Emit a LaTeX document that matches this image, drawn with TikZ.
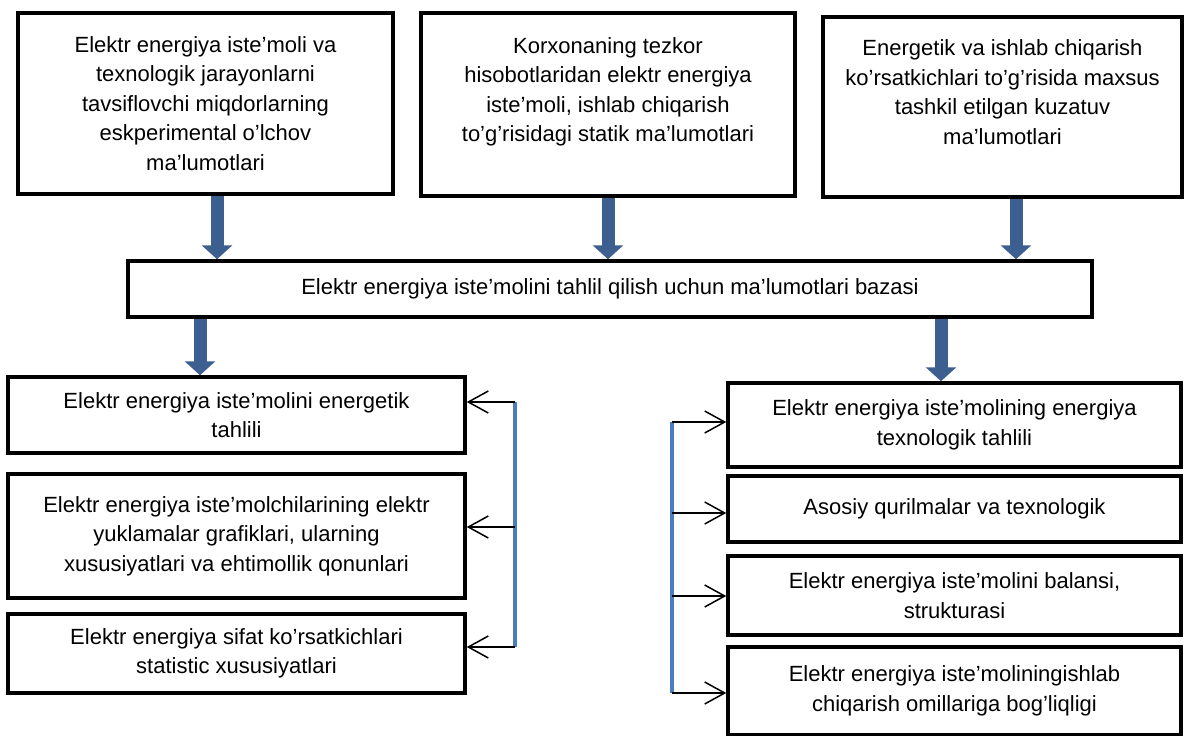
\documentclass[tikz,border=0pt]{standalone}
\usepackage{fontspec}
\setmainfont{Liberation Sans}
\usetikzlibrary{arrows.meta}
\definecolor{arrowblue}{HTML}{3D5F8F}
\definecolor{lineblue}{HTML}{4A7EBB}
\tikzset{box/.style={draw, line width=3.5pt, align=center, inner sep=4pt, font=\fontsize{22}{29.5}\selectfont}}
\tikzset{fat/.style={color=arrowblue, line width=13pt, -{Triangle[length=14pt,width=30pt]}}}
\tikzset{rail/.style={draw=lineblue, line width=3.5pt}}
\tikzset{barb/.style={line width=1.5pt, -{Straight Barb[length=20pt,width=22pt]}}}
\newcommand{\fatarrow}[3]{\draw[fat] (#1,0 |- #2) -- (#1,0 |- #3);}

\begin{document}
\begin{tikzpicture}[x=1pt,y=-1pt]
\useasboundingbox (0,0) rectangle (1184,736);
\node[box, minimum width=375pt, minimum height=181pt] (src1) at (205.5,103.5) {Elektr energiya iste’moli va\\texnologik jarayonlarni\\tavsiflovchi miqdorlarning\\eskperimental o’lchov\\ma’lumotlari};
\node[box, minimum width=374pt, minimum height=183pt] (src2) at (608,104.5) {Korxonaning tezkor\\hisobotlaridan elektr energiya\\iste’moli, ishlab chiqarish\\to’g’risidagi statik ma’lumotlari\\~};
\node[box, minimum width=359pt, minimum height=180pt] (src3) at (1002.5,107) {Energetik va ishlab chiqarish\\ko’rsatkichlari to’g’risida maxsus\\tashkil etilgan kuzatuv\\ma’lumotlari\\~};
\node[box, minimum width=964pt, minimum height=56pt] (base) at (610,289) {Elektr energiya iste’molini tahlil qilish uchun ma’lumotlari bazasi};
\node[box, minimum width=457pt, minimum height=76pt] (en1) at (236.5,415) {Elektr energiya iste’molini energetik\\tahlili};
\node[box, minimum width=457pt, minimum height=124pt] (en2) at (236.5,536) {Elektr energiya iste’molchilarining elektr\\yuklamalar grafiklari, ularning\\xususiyatlari va ehtimollik qonunlari};
\node[box, minimum width=457pt, minimum height=79pt] (en3) at (236.5,653.5) {Elektr energiya sifat ko’rsatkichlari\\statistic xususiyatlari};
\node[box, minimum width=453pt, minimum height=84pt] (tx1) at (954.5,425) {Elektr energiya iste’molining energiya\\texnologik tahlili};
\node[box, minimum width=453pt, minimum height=66pt] (tx2) at (954.5,509) {Asosiy qurilmalar va texnologik};
\node[box, minimum width=453pt, minimum height=79pt] (tx3) at (954.5,595.5) {Elektr energiya iste’molini balansi,\\strukturasi};
\node[box, minimum width=453pt, minimum height=88pt] (tx4) at (954.5,691) {Elektr energiya iste’moliningishlab\\chiqarish omillariga bog’liqligi};
\fatarrow{217}{src1.south}{base.north}
\fatarrow{608}{src2.south}{base.north}
\fatarrow{1016}{src3.south}{base.north}
\fatarrow{200}{base.south}{en1.north}
\fatarrow{941}{base.south}{tx1.north}
\coordinate (lt) at (515,402);
\coordinate (lm) at (515,527);
\coordinate (lb) at (515,647);
\coordinate (rt) at (672,422);
\coordinate (rm1) at (672,513);
\coordinate (rm2) at (672,596);
\coordinate (rb) at (672,693);
\draw[rail] (lt) -- (lb);
\draw[rail] (rt) -- (rb);
\draw[barb] (lt) -- (lt -| en1.east);
\draw[barb] (lm) -- (lm -| en2.east);
\draw[barb] (lb) -- (lb -| en3.east);
\draw[barb] (rt) -- (rt -| tx1.west);
\draw[barb] (rm1) -- (rm1 -| tx2.west);
\draw[barb] (rm2) -- (rm2 -| tx3.west);
\draw[barb] (rb) -- (rb -| tx4.west);
\end{tikzpicture}
\end{document}
